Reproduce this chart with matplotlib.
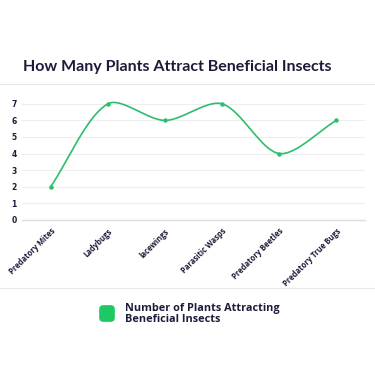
import numpy as np
import matplotlib.pyplot as plt
from matplotlib.patches import FancyBboxPatch
from matplotlib.lines import Line2D

insects = ['Predatory Mites', 'Ladybugs', 'lacewings', 'Parasitic Wasps',
           'Predatory Beetles', 'Predatory True Bugs']
plants = [2, 7, 6, 7, 4, 6]
yticks = [0, 1, 2, 3, 4, 5, 6, 7]

dark = '#1c1c3a'
green = '#2dbd6e'

plt.rcParams['font.family'] = ['Lato', 'DejaVu Sans']

fig = plt.figure(figsize=(3.75, 3.79), dpi=100)
ax = fig.add_axes([0.059, 0.42, 0.914, 0.306])


def spline(xs, ys, tension=0.3, sx=57.0, sy=16.6, n=40):
    # bezier spline like in chart.js, distances measured in pixels
    xs = np.asarray(xs, float) * sx
    ys = np.asarray(ys, float) * sy
    pts = np.column_stack([xs, ys])
    k = len(pts)
    cp_prev = [None] * k
    cp_next = [None] * k
    for i in range(k):
        prev = pts[max(i - 1, 0)]
        nxt = pts[min(i + 1, k - 1)]
        cur = pts[i]
        d01 = np.hypot(*(cur - prev))
        d12 = np.hypot(*(nxt - cur))
        s = d01 + d12
        fa = d01 / s if s else 0
        fb = d12 / s if s else 0
        cp_prev[i] = cur - tension * fa * (nxt - prev)
        cp_next[i] = cur + tension * fb * (nxt - prev)
    t = np.linspace(0, 1, n)[:, None]
    out = []
    for i in range(k - 1):
        p0, p1, p2, p3 = pts[i], cp_next[i], cp_prev[i + 1], pts[i + 1]
        seg = (1-t)**3*p0 + 3*(1-t)**2*t*p1 + 3*(1-t)*t**2*p2 + t**3*p3
        out.append(seg)
    out = np.vstack(out)
    return out[:, 0] / sx, out[:, 1] / sy


x = np.arange(len(insects))
cx, cy = spline(x, plants)
ax.plot(cx, cy, color=green, lw=1.2, clip_on=False, zorder=3)
ax.plot(x, plants, 'o', color=green, ms=2.2, clip_on=False, zorder=4)

ax.set_xlim(-0.5, len(insects) - 0.5)
ax.set_ylim(0, 7)
ax.set_yticks(yticks)
ax.set_yticklabels([str(v) for v in yticks], fontsize=5.5, fontweight='bold',
                   color=dark, family=['DejaVu Sans'])
ax.set_xticks(x)
ax.set_xticklabels(insects, rotation=45, ha='right', rotation_mode='anchor',
                   fontsize=5.5, fontweight='bold', color=dark, family=['Open Sans'])
ax.tick_params(length=0, pad=4)
ax.tick_params(axis='x', pad=5)
ax.grid(axis='y', color='#eeeeee', lw=0.8)
ax.set_axisbelow(True)
for s in ['top', 'right', 'left']:
    ax.spines[s].set_visible(False)
ax.spines['bottom'].set_color('#dddddd')
ax.spines['bottom'].set_linewidth(1.0)

fig.text(0.061, 0.822, 'How Many Plants Attract Beneficial Insects', fontsize=11.5,
         fontweight='bold', color=dark, va='center', ha='left')

# separator lines
fig.add_artist(Line2D([0, 1], [1 - 84/379, 1 - 84/379], color='#e8e8e8', lw=0.8))
fig.add_artist(Line2D([0, 1], [1 - 288/379, 1 - 288/379], color='#e8e8e8', lw=0.8))

# legend
fig.add_artist(FancyBboxPatch((101/375, 1 - 320/379), 12/375, 13/379,
                              boxstyle='round,pad=0.003,rounding_size=0.009',
                              transform=fig.transFigure, color='#1ec863'))
fig.text(125/375, 1 - 314/379, 'Number of Plants Attracting\nBeneficial Insects',
         fontsize=7.8, fontweight='bold', color=dark, va='center', ha='left',
         linespacing=1.05, family=['Open Sans'])

fig.savefig('out.png', dpi=100, facecolor='white')
